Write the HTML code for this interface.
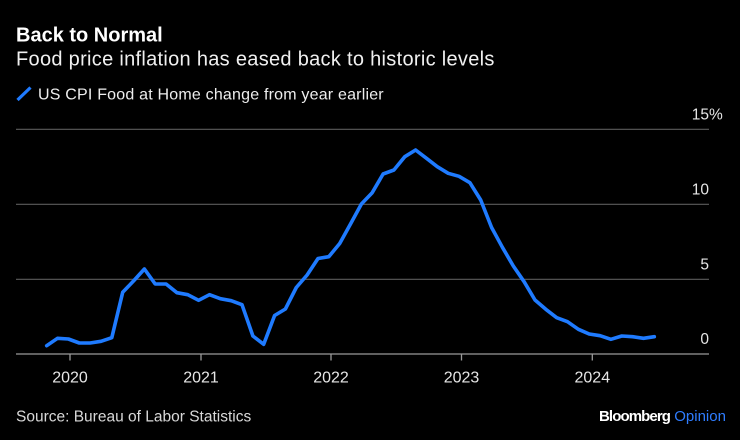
<!DOCTYPE html>
<html>
<head>
<meta charset="utf-8">
<style>
  html, body { margin: 0; padding: 0; background: #000; }
  body { width: 740px; height: 440px; overflow: hidden; }
  svg { display: block; }
  text { font-family: "Liberation Sans", Arial, sans-serif; }
</style>
</head>
<body>
<svg width="740" height="440" viewBox="0 0 740 440" xmlns="http://www.w3.org/2000/svg">
  <rect x="0" y="0" width="740" height="440" fill="#000"/>

  <!-- Title & subtitle -->
  <text x="16" y="41.5" font-size="20" font-weight="bold" fill="#ffffff">Back to Normal</text>
  <text x="16" y="65.5" font-size="20" fill="#f0f0f0" letter-spacing="0.3">Food price inflation has eased back to historic levels</text>

  <!-- Legend -->
  <line x1="17.5" y1="100" x2="30.5" y2="87.5" stroke="#1f7bff" stroke-width="3.2" stroke-linecap="butt"/>
  <text x="38" y="99.3" font-size="16" fill="#eeeeee" letter-spacing="0.2">US CPI Food at Home change from year earlier</text>

  <!-- Gridlines -->
  <g stroke="#5c5c5c" stroke-width="1.2">
    <line x1="16" y1="129.3" x2="709" y2="129.3"/>
    <line x1="16" y1="204.3" x2="709" y2="204.3"/>
    <line x1="16" y1="279.3" x2="709" y2="279.3"/>
  </g>
  <!-- Baseline -->
  <line x1="16" y1="354" x2="709" y2="354" stroke="#9a9a9a" stroke-width="1.3"/>
  <!-- Ticks -->
  <g stroke="#9a9a9a" stroke-width="1.3">
    <line x1="70" y1="354" x2="70" y2="360.5"/>
    <line x1="201" y1="354" x2="201" y2="360.5"/>
    <line x1="331" y1="354" x2="331" y2="360.5"/>
    <line x1="461.5" y1="354" x2="461.5" y2="360.5"/>
    <line x1="592.3" y1="354" x2="592.3" y2="360.5"/>
  </g>

  <!-- Y labels -->
  <g font-size="15.5" fill="#e6e6e6">
    <text x="709" y="119.5" text-anchor="end">15</text>
    <text x="709" y="119.5">%</text>
    <text x="709" y="194.5" text-anchor="end">10</text>
    <text x="709" y="269.5" text-anchor="end">5</text>
    <text x="709" y="344" text-anchor="end">0</text>
  </g>

  <!-- X labels -->
  <g font-size="16" fill="#e6e6e6" text-anchor="middle">
    <text x="70" y="382.5">2020</text>
    <text x="201" y="382.5">2021</text>
    <text x="331" y="382.5">2022</text>
    <text x="461.5" y="382.5">2023</text>
    <text x="592.3" y="382.5">2024</text>
  </g>

  <!-- Series -->
  <polyline fill="none" stroke="#1f7bff" stroke-width="3.6" stroke-linejoin="round" stroke-linecap="round"
    points="46.7,345.7 57.5,338.3 68.4,339 79.3,343 90.1,343 101,341.3 111.8,337.7 122.7,292.3 133.5,281 144.4,269 155.2,284 166.1,284 176.9,292.7 187.8,294.7 198.6,300.3 209.5,294.7 220.3,298.7 231.2,300.7 242,304.7 252.9,336 263.7,344.3 274.6,315.5 285.4,309 296.3,287.5 307.1,275 318,258.5 328.8,256.7 339.7,243.5 350.5,224 361.4,204 372.2,192.7 383.1,174 393.9,170 404.8,156.7 415.6,150 426.5,158.3 437.3,166.7 448.2,173.3 459,176.3 469.9,182.7 480.7,200 491.6,227.5 502.4,247.3 513.3,266 524.1,281.7 535,300 545.8,309.3 556.7,317.7 567.5,321.7 578.4,329.3 589.2,334 600.1,335.7 610.9,339.3 621.8,336 632.6,336.7 643.5,338.3 654.3,336.7"/>

  <!-- Footer -->
  <text x="16" y="421.5" font-size="15.5" fill="#d8d8d8">Source: Bureau of Labor Statistics</text>
  <text x="599" y="421" font-size="15"><tspan font-weight="bold" fill="#ffffff" letter-spacing="-0.9">Bloomberg</tspan><tspan fill="#2f7dff"> Opinion</tspan></text>
</svg>
</body>
</html>
